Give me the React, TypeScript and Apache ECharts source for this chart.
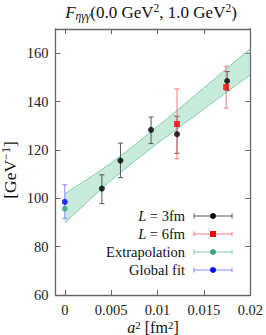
import React, { useEffect, useRef } from "react";
import * as echarts from "echarts";

// Axis ticks
const xTicks = [0, 0.005, 0.01, 0.015, 0.02];
const yTicks = [60, 80, 100, 120, 140, 160];

// L = 3fm (black)
const l3X = [0.004, 0.006, 0.0093, 0.0121, 0.0175];
const l3Y = [104.0, 115.6, 128.3, 126.5, 148.5];
const l3Lo = [97.8, 108.5, 122.6, 118.6, 144.6];
const l3Hi = [109.7, 122.8, 133.6, 133.9, 152.4];

// L = 6fm (red)
const l6X = [0.0121, 0.0174];
const l6Y = [130.7, 146.0];
const l6Lo = [116.3, 137.3];
const l6Hi = [145.2, 154.6];

// Extrapolation (green) and global fit (blue)
const extrapX = [0];
const extrapY = [95.7];
const globalX = [0];
const globalY = [98.5];
const globalLo = [91.6];
const globalHi = [105.6];

// Fit band
const bandX = [0, 0.0025, 0.005, 0.0075, 0.01, 0.0125, 0.015, 0.0175, 0.02];
const bandLo = [89.7, 98.8, 107.4, 115.3, 122.7, 129.8, 136.9, 144.0, 151.1];
const bandHi = [101.9, 108.0, 114.6, 121.9, 129.7, 137.6, 145.7, 153.8, 161.9];

const legendLabels = ["{i|L} = 3fm", "{i|L} = 6fm", "Extrapolation", "Global fit"];

const FONT = "'Liberation Serif', 'DejaVu Serif', serif";
const AXIS_COLOR = "#666";
const BLACK = "#000";
const BLACK_ERR = "#555";
const RED = "#ff0000";
const RED_ERR = "#f07a7a";
const GREEN = "#3aa877";
const GREEN_ERR = "#7fd0a8";
const BLUE = "#0000ff";
const BLUE_ERR = "#8a8aff";

function errSeries(xs: number[], lo: number[], hi: number[], color: string, z: number) {
  return {
    type: "custom",
    z,
    data: xs.map((x, i) => [x, lo[i], hi[i]]),
    encode: { x: 0, y: [1, 2] },
    renderItem: (params: any, api: any) => {
      const x = api.value(0);
      const a = api.coord([x, api.value(1)]);
      const b = api.coord([x, api.value(2)]);
      const cw = 2.5;
      const st = { stroke: color, lineWidth: 1 };
      return {
        type: "group",
        children: [
          { type: "line", shape: { x1: a[0], y1: a[1], x2: b[0], y2: b[1] }, style: st },
          { type: "line", shape: { x1: a[0] - cw, y1: a[1], x2: a[0] + cw, y2: a[1] }, style: st },
          { type: "line", shape: { x1: b[0] - cw, y1: b[1], x2: b[0] + cw, y2: b[1] }, style: st },
        ],
      };
    },
  };
}

function scatterSeries(xs: number[], ys: number[], color: string, symbol: string, z: number) {
  return {
    type: "scatter",
    z,
    symbol,
    symbolSize: 6,
    itemStyle: { color },
    data: xs.map((x, i) => [x, ys[i]]),
  };
}

export default function App() {
  const ref = useRef<HTMLDivElement>(null);
  useEffect(() => {
    if (!ref.current) return;
    const chart = echarts.init(ref.current, undefined, { renderer: "svg" });

    const legendColors = [
      [BLACK, BLACK_ERR, "circle"],
      [RED, RED_ERR, "rect"],
      [GREEN, GREEN_ERR, "circle"],
      [BLUE, BLUE_ERR, "circle"],
    ];
    const legendGraphics: any[] = [];
    const rowY = [216, 234, 252, 270];
    legendLabels.forEach((lab, i) => {
      const y = rowY[i];
      const [c, ec, sym] = legendColors[i];
      legendGraphics.push({
        type: "text",
        x: 185,
        y,
        style: {
          text: lab,
          align: "right",
          verticalAlign: "middle",
          fontFamily: FONT,
          fontSize: 14.5,
          fill: "#111",
          rich: { i: { fontFamily: FONT, fontSize: 14.5, fontStyle: "italic", fill: "#111" } },
        },
      });
      const st = { stroke: ec, lineWidth: 1 };
      legendGraphics.push({ type: "line", shape: { x1: 194, y1: y, x2: 232, y2: y }, style: st });
      legendGraphics.push({ type: "line", shape: { x1: 194, y1: y - 2.5, x2: 194, y2: y + 2.5 }, style: st });
      legendGraphics.push({ type: "line", shape: { x1: 232, y1: y - 2.5, x2: 232, y2: y + 2.5 }, style: st });
      if (sym === "rect") {
        legendGraphics.push({ type: "rect", shape: { x: 210, y: y - 3, width: 6, height: 6 }, style: { fill: c } });
      } else {
        legendGraphics.push({ type: "circle", shape: { cx: 213, cy: y, r: 3 }, style: { fill: c } });
      }
    });

    const axisCommon = {
      type: "value",
      splitLine: { show: false },
      axisLine: { show: true, onZero: false, lineStyle: { color: AXIS_COLOR, width: 1.3 } },
    };

    const option: any = {
      animation: false,
      grid: { left: 55.5, right: 13, top: 29, bottom: 40 },
      xAxis: [
        {
          ...axisCommon,
          min: -0.001,
          max: 0.02,
          position: "bottom",
          axisTick: { show: true, inside: true, length: 5, customValues: xTicks, lineStyle: { color: AXIS_COLOR } },
          axisLabel: { customValues: xTicks, fontFamily: FONT, fontSize: 14.5, color: "#222", margin: 7 },
        },
        {
          ...axisCommon,
          min: -0.001,
          max: 0.02,
          position: "top",
          axisTick: { show: true, inside: true, length: 5, customValues: xTicks, lineStyle: { color: AXIS_COLOR } },
          axisLabel: { show: false },
        },
      ],
      yAxis: [
        {
          ...axisCommon,
          min: 60,
          max: 170,
          position: "left",
          axisTick: { show: true, inside: true, length: 5, customValues: yTicks, lineStyle: { color: AXIS_COLOR } },
          axisLabel: { customValues: yTicks, fontFamily: FONT, fontSize: 14.5, color: "#222", margin: 7 },
        },
        {
          ...axisCommon,
          min: 60,
          max: 170,
          position: "right",
          axisTick: { show: true, inside: true, length: 5, customValues: yTicks, lineStyle: { color: AXIS_COLOR } },
          axisLabel: { show: false },
        },
      ],
      graphic: [
        {
          type: "text",
          x: 151,
          y: 12,
          style: {
            text: "{i|F}{sub|ηγγ}{n|(0.0 GeV}{sup|2}{n|, 1.0 GeV}{sup|2}{n|)}",
            align: "center",
            verticalAlign: "middle",
            rich: {
              i: { fontFamily: FONT, fontSize: 17, fontStyle: "italic", fill: "#111", lineHeight: 20 },
              n: { fontFamily: FONT, fontSize: 17, fill: "#111", lineHeight: 20 },
              sub: { fontFamily: FONT, fontSize: 11.5, fontStyle: "italic", fill: "#111", verticalAlign: "bottom", lineHeight: 20, padding: [6, 0, 0, 0] },
              sup: { fontFamily: FONT, fontSize: 11.5, fill: "#111", verticalAlign: "top", lineHeight: 20, padding: [0, 0, 6, 0] },
            },
          },
        },
        {
          type: "text",
          x: 10,
          y: 170,
          rotation: Math.PI / 2,
          style: {
            text: "{n|[GeV}{sup|−1}{n|]}",
            align: "center",
            verticalAlign: "middle",
            rich: {
              n: { fontFamily: FONT, fontSize: 17.5, fill: "#111", lineHeight: 20 },
              sup: { fontFamily: FONT, fontSize: 12, fill: "#111", verticalAlign: "top", lineHeight: 20, padding: [0, 0, 7, 0] },
            },
          },
        },
        {
          type: "text",
          x: 153,
          y: 327,
          style: {
            text: "{i|a}{sup|2}{n| [fm}{sup|2}{n|]}",
            align: "center",
            verticalAlign: "middle",
            rich: {
              i: { fontFamily: FONT, fontSize: 16, fontStyle: "italic", fill: "#111", lineHeight: 16 },
              n: { fontFamily: FONT, fontSize: 16, fill: "#111", lineHeight: 16 },
              sup: { fontFamily: FONT, fontSize: 11, fill: "#111", verticalAlign: "top", lineHeight: 16, padding: [0, 0, 5, 0] },
            },
          },
        },
        ...legendGraphics,
      ],
      series: [
        {
          type: "custom",
          z: 1,
          data: [[bandX[0], bandLo[0]]],
          encode: { x: 0, y: 1 },
          renderItem: (params: any, api: any) => {
            const up = bandX.map((x, i) => api.coord([x, bandHi[i]]));
            const lo = bandX.map((x, i) => api.coord([x, bandLo[i]]));
            return {
              type: "group",
              children: [
                {
                  type: "polygon",
                  shape: { points: up.concat(lo.slice().reverse()) },
                  style: { fill: "rgba(110,200,155,0.38)", stroke: "none" },
                },
                { type: "polyline", shape: { points: up }, style: { stroke: "#6cc49a", lineWidth: 0.8, fill: "none" } },
                { type: "polyline", shape: { points: lo }, style: { stroke: "#6cc49a", lineWidth: 0.8, fill: "none" } },
              ],
            };
          },
        },
        errSeries(l3X, l3Lo, l3Hi, BLACK_ERR, 2),
        errSeries(l6X, l6Lo, l6Hi, RED_ERR, 3),
        errSeries(globalX, globalLo, globalHi, BLUE_ERR, 3),
        scatterSeries(l3X, l3Y, BLACK, "circle", 4),
        scatterSeries(l6X, l6Y, RED, "rect", 5),
        scatterSeries(extrapX, extrapY, GREEN, "circle", 5),
        scatterSeries(globalX, globalY, BLUE, "circle", 5),
      ],
    };
    chart.setOption(option);
    return () => chart.dispose();
  }, []);
  return (
    <div
      ref={ref}
      style={{ position: "fixed", left: 0, top: 0, width: 266, height: 335, background: "#fff" }}
    />
  );
}
